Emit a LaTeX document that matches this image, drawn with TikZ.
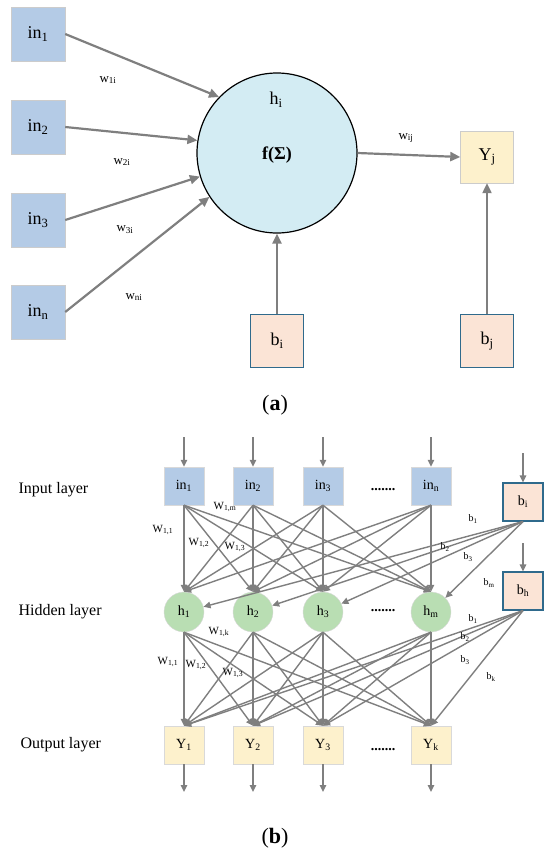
\documentclass[tikz,border=0pt]{standalone}
\usepackage{fontspec}
\setmainfont{Liberation Serif}
\usetikzlibrary{arrows.meta}
\definecolor{inblue}{HTML}{B4CBE6}
\definecolor{cyanf}{HTML}{D3ECF3}
\definecolor{yelf}{HTML}{FDF1CC}
\definecolor{peachf}{HTML}{FBE4D6}
\definecolor{bborder}{HTML}{2F6A8C}
\definecolor{hgreen}{HTML}{B9DEB3}
\definecolor{arrc}{HTML}{7F7F7F}
\begin{document}
\begin{tikzpicture}[x=1pt,y=-1pt,
  fs/.style={font=\fontsize{#1}{#1}\selectfont},
  inA/.style={draw=black!20, fill=inblue, minimum width=54pt, minimum height=54pt, inner sep=0pt, fs=18},
  yA/.style={draw=black!20, fill=yelf, minimum width=53pt, minimum height=52pt, inner sep=0pt, fs=18},
  bA/.style={draw=bborder, line width=1.2pt, fill=peachf, minimum width=53pt, minimum height=53pt, inner sep=0pt, fs=18},
  arrA/.style={draw=arrc, line width=2.2pt, -{Triangle[length=10pt,width=9pt]}},
  wlab/.style={fs=13},
  inB/.style={draw=black!15, fill=inblue, minimum width=40pt, minimum height=38pt, inner sep=0pt, fs=14},
  yB/.style={draw=black!15, fill=yelf, minimum width=40pt, minimum height=38pt, inner sep=0pt, fs=14},
  bB/.style={draw=bborder, line width=1.1pt, fill=peachf, minimum width=40pt, minimum height=38pt, inner sep=0pt, fs=14},
  hB/.style={circle, draw=black!15, fill=hgreen, minimum size=40pt, inner sep=0pt, fs=14},
  arrB/.style={draw=arrc, line width=1.4pt, -{Triangle[length=7pt,width=6.5pt]}},
  wB/.style={fs=11},
  bl/.style={fs=10},
  layer/.style={anchor=west, fs=16},
  dots/.style={fs=14}]
\useasboundingbox (0,0) rectangle (550,854);
% ---------- (a) ----------
\node[inA] (in1) at (38,34) {in\textsubscript{1}};
\node[inA] (in2) at (38,127) {in\textsubscript{2}};
\node[inA] (in3) at (38,220) {in\textsubscript{3}};
\node[inA] (inn) at (38,312) {in\textsubscript{n}};
\node[circle, draw=black, line width=1.2pt, fill=cyanf, minimum size=160pt, inner sep=0pt] (hi) at (277,153) {};
\node[fs=18] (hil) at (276,100) {h\textsubscript{i}};
\node[fs=18] (fsum) at (277,155) {\textbf{f(Σ)}};
\node[yA] (Yj) at (487,157) {Y\textsubscript{j}};
\node[bA] (bi) at (277,341) {b\textsubscript{i}};
\node[bA] (bj) at (487,341) {b\textsubscript{j}};
\draw[arrA] (in1.east) -- (hi.136);
\draw[arrA] (in2.east) -- (hi.171);
\draw[arrA] (in3.east) -- (hi.197);
\draw[arrA] (inn.east) -- (hi.213);
\draw[arrA] (hi.east) -- (Yj.west);
\draw[arrA] (bi.north) -- (hi.south);
\draw[arrA] (bj.north) -- (Yj.south);
\node[wlab] (w1) at (108,80) {w\textsubscript{1i}};
\node[wlab] (w2) at (122,162) {w\textsubscript{2i}};
\node[wlab] (w3) at (125,230) {w\textsubscript{3i}};
\node[wlab] (wn) at (134,297) {w\textsubscript{ni}};
\node[wlab] (wij) at (406,138) {w\textsubscript{ij}};
\node[fs=22] (capa) at (275,405) {(\textbf{a})};
% ---------- (b) ----------
\node[layer] (L1) at (15,490) {Input layer};
\node[layer] (L2) at (15,612) {Hidden layer};
\node[layer] (L3) at (17,745) {Output layer};
\foreach \n/\x in {1/184,2/253,3/323,n/431}{
  \node[inB] (i\n) at (\x,486) {in\textsubscript{\n}};
  \coordinate (t\n) at (\x,437);
  \draw[arrB] (t\n) -- (i\n.north);
}
\foreach \n/\x in {1/184,2/253,3/323,m/431}{
  \node[hB] (h\n) at (\x,612) {h\textsubscript{\n}};
}
\foreach \n/\x in {1/184,2/253,3/323,k/431}{
  \node[yB] (Y\n) at (\x,745) {Y\textsubscript{\n}};
  \coordinate (o\n) at (\x,792);
  \draw[arrB] (Y\n.south) -- (o\n);
}
\node[bB] (bI) at (523,502) {b\textsubscript{i}};
\node[bB] (bH) at (523,591) {b\textsubscript{h}};
\coordinate (tbI) at (523,453);
\coordinate (tbH) at (523,543);
\draw[arrB] (tbI) -- (bI.north);
\draw[arrB] (tbH) -- (bH.north);
\node[dots] (d1) at (383,490) {\textbf{.......}};
\node[dots] (d2) at (383,611) {\textbf{.......}};
\node[dots] (d3) at (383,750) {\textbf{.......}};
\foreach \a in {1,2,3,n}{
  \foreach \b in {1,2,3,m}{
    \draw[arrB] (i\a.south) -- (h\b.north);
  }
}
\foreach \b in {1,2,3,m}{
  \draw[arrB] (bI.south) -- (h\b);
}
\foreach \a in {1,2,3,m}{
  \foreach \b in {1,2,3,k}{
    \draw[arrB] (h\a.south) -- (Y\b.north);
  }
}
\foreach \b in {1,2,3,k}{
  \draw[arrB] (bH.south) -- (Y\b.north);
}
\node[wB] (wa1) at (163,530) {W\textsubscript{1,1}};
\node[wB] (wa2) at (199,543) {W\textsubscript{1,2}};
\node[wB] (wa3) at (235,547) {W\textsubscript{1,3}};
\node[wB] (wam) at (225,507) {W\textsubscript{1,m}};
\node[wB] (wbk) at (219,632) {W\textsubscript{1,k}};
\node[wB] (wb1) at (168,662) {W\textsubscript{1,1}};
\node[wB] (wb2) at (196,665) {W\textsubscript{1,2}};
\node[wB] (wb3) at (233,673) {W\textsubscript{1,3}};
\node[bl] (bi1) at (473,519) {b\textsubscript{1}};
\node[bl] (bi2) at (445,547) {b\textsubscript{2}};
\node[bl] (bi3) at (468,557) {b\textsubscript{3}};
\node[bl] (bim) at (489,583) {b\textsubscript{m}};
\node[bl] (bh1) at (473,619) {b\textsubscript{1}};
\node[bl] (bh2) at (465,637) {b\textsubscript{2}};
\node[bl] (bh3) at (465,660) {b\textsubscript{3}};
\node[bl] (bhk) at (491,677) {b\textsubscript{k}};
\node[fs=22] (capb) at (275,838) {(\textbf{b})};
\end{tikzpicture}
\end{document}
